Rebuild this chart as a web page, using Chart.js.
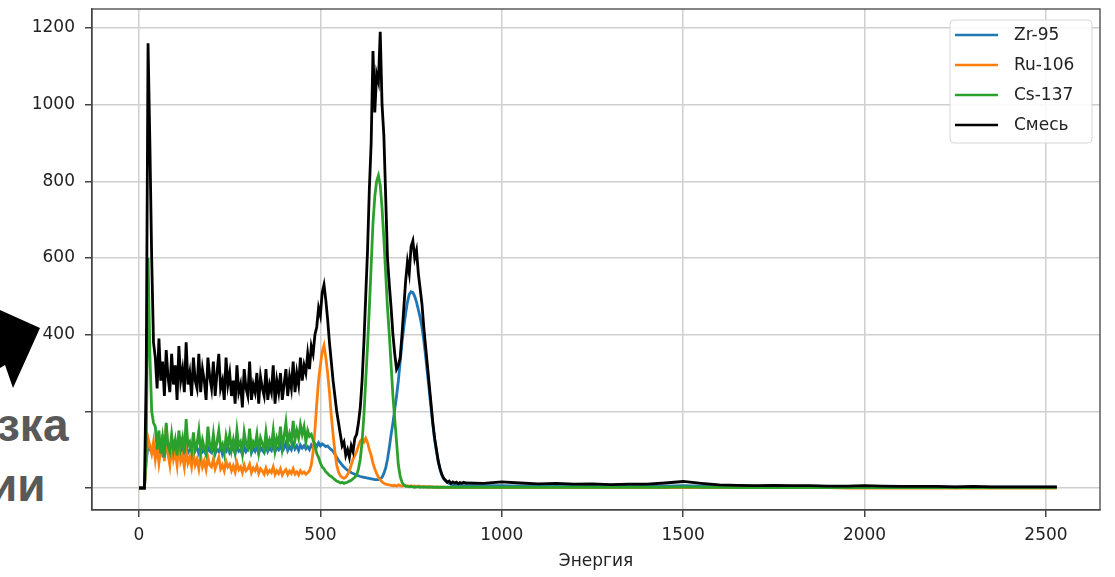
<!DOCTYPE html>
<html>
<head>
<meta charset="utf-8">
<script src="https://cdn.jsdelivr.net/npm/chart.js@4.4.1/dist/chart.umd.min.js"></script>
<style>
  body { margin: 0; background: #fff; }
  #wrap { position: relative; width: 1115px; height: 577px; }
  #cover { position: absolute; left: 0; top: 396px; width: 84px; height: 116px; background: #fff; }
  .big { position: absolute; font-family: "Liberation Sans", Arial, sans-serif; font-weight: bold;
         font-size: 46px; color: #595959; line-height: 1; white-space: nowrap; }
  #arrow { position: absolute; left: 0; top: 0; }
</style>
</head>
<body>
<div id="wrap">
  <canvas id="chart" width="1115" height="577"></canvas>
  <div id="cover"></div>
  <svg id="arrow" width="60" height="400"><polygon points="0,310 40,328 13,388 5,365 0,368" fill="#000"/></svg>
  <div class="big" style="left:-3px; top:402px;">зка</div>
  <div class="big" style="left:-11px; top:462px;">ии</div>
</div>
<script>
const energy = [
  0,5,10,15,20,25,30,35,40,45,
  50,55,60,65,70,75,80,85,90,95,
  100,105,110,115,120,125,130,135,140,145,
  150,155,160,165,170,175,180,185,190,195,
  200,205,210,215,220,225,230,235,240,245,
  250,255,260,265,270,275,280,285,290,295,
  300,305,310,315,320,325,330,335,340,345,
  350,355,360,365,370,375,380,385,390,395,
  400,405,410,415,420,425,430,435,440,445,
  450,455,460,465,470,475,480,485,490,495,
  500,505,510,515,520,525,530,535,540,545,
  550,555,560,565,570,575,580,585,590,595,
  600,605,610,615,620,625,630,635,640,645,
  650,655,660,665,670,675,680,685,690,695,
  700,705,710,715,720,725,730,735,740,745,
  750,755,760,765,770,775,780,785,790,795,
  800,805,810,815,820,825,830,835,840,845,
  850,855,860,865,870,875,880,885,890,895,
  900,
  950,1000,1050,1100,1150,1200,1250,1300,1350,1400,
  1450,1500,1550,1600,1650,1700,1750,1800,1850,1900,
  1950,2000,2050,2100,2150,2200,2250,2300,2350,2400,
  2450,2500,2530
];

const zr95 = [
  0,0,0,0,70,110,100,95,100,85,
  105,90,110,88,98,115,90,102,86,108,
  94,100,88,112,95,85,105,92,100,110,
  88,98,104,90,108,94,100,86,106,96,
  92,110,90,100,95,108,88,102,96,110,
  92,100,105,90,112,96,100,88,108,95,
  102,114,92,104,96,110,90,106,98,92,
  112,95,104,98,115,94,106,100,112,96,
  104,118,98,108,100,116,102,110,98,112,
  104,110,102,108,100,112,105,115,108,118,
  110,115,112,108,110,104,100,96,88,80,
  72,66,60,55,50,46,44,40,38,36,
  34,32,30,29,28,27,26,25,24,23,
  22,22,22,24,28,38,52,75,105,140,
  170,205,240,280,330,380,420,455,485,505,
  512,510,500,485,465,445,420,385,345,300,
  255,210,165,125,95,68,48,33,24,18,
  14,12,10,9,8,8,7,7,6,6,
  6,
  6,6,5,5,5,5,4,4,4,4,
  5,6,5,4,3,3,3,3,3,3,
  3,3,2,2,2,2,2,2,2,2,
  2,2,2
];

const ru106 = [
  0,0,0,0,80,130,110,90,120,75,
  110,65,100,140,70,165,90,60,115,75,
  95,60,120,70,85,55,100,65,80,55,
  90,60,75,50,85,55,70,48,80,60,
  55,75,50,65,80,50,60,45,70,55,
  62,45,58,42,66,48,55,40,60,45,
  50,62,40,52,45,58,38,50,44,36,
  52,38,46,40,55,35,45,38,50,34,
  42,48,35,44,38,50,36,42,34,45,
  38,42,36,40,45,60,95,150,220,280,
  320,355,372,340,300,250,190,140,95,60,
  42,32,28,25,28,35,45,60,75,85,
  95,110,122,128,120,130,118,100,85,65,
  50,38,28,22,16,12,10,9,8,7,
  6,7,5,8,6,5,7,5,6,4,
  6,4,5,3,5,4,3,4,3,3,
  4,2,3,2,3,2,2,2,2,1,
  2,1,1,1,1,1,1,1,1,1,
  1,
  1,1,1,1,1,1,1,1,1,1,
  1,1,1,1,1,1,1,1,1,1,
  0,0,0,0,0,0,0,0,0,0,
  0,0,0
];

const cs137 = [
  0,0,0,0,90,600,350,200,170,160,
  100,150,90,130,80,170,110,95,140,100,
  125,85,150,105,130,90,180,110,120,95,
  145,100,115,150,95,125,105,90,160,110,
  100,140,95,120,150,105,115,90,135,110,
  140,100,125,95,150,110,120,90,145,115,
  105,155,100,120,110,140,95,130,115,100,
  145,105,125,110,150,100,130,115,160,105,
  135,170,115,140,120,175,125,150,130,165,
  140,160,120,150,135,140,125,110,90,80,
  65,55,50,42,38,33,30,26,22,18,
  16,13,15,12,14,15,18,20,24,28,
  35,50,75,120,190,280,370,470,580,690,
  760,800,815,790,730,650,560,470,400,320,
  240,180,120,60,30,15,8,5,4,3,
  4,3,2,3,3,2,3,2,3,2,
  2,3,2,2,2,2,2,2,2,2,
  2,2,2,2,2,2,2,2,2,2,
  2,
  2,2,2,2,2,2,2,2,2,2,
  2,3,2,2,1,1,1,1,1,1,
  1,1,1,1,1,1,1,1,1,1,
  1,1,1
];

const mix = [
  0,0,0,0,300,1160,900,600,380,340,
  260,390,280,330,240,360,290,250,350,270,
  320,230,370,280,310,250,380,270,300,240,
  340,280,260,350,250,310,280,230,340,290,
  260,330,240,300,350,260,280,230,340,270,
  300,240,280,220,320,250,270,210,310,260,
  240,330,230,270,250,300,220,290,260,240,
  310,230,270,250,320,220,280,250,300,230,
  270,310,240,290,260,330,250,300,270,340,
  280,320,300,350,310,370,350,400,420,470,
  450,510,530,490,440,380,330,280,240,200,
  170,140,110,120,85,100,80,110,95,130,
  140,170,210,280,380,500,620,780,900,1140,
  980,1080,1060,1190,1000,920,760,600,530,470,
  400,350,310,320,340,400,470,540,590,560,
  630,645,600,620,560,520,480,420,370,320,
  270,220,170,130,100,70,50,35,25,20,
  15,18,12,16,13,15,11,14,12,15,
  13,
  12,16,13,11,12,10,11,9,10,10,
  13,17,12,8,7,6,7,6,6,5,
  5,6,5,4,4,4,3,4,3,3,
  3,3,3
];

const seriesNames = ["Zr-95", "Ru-106", "Cs-137", "Смесь"];
const seriesColors = ["#1f77b4", "#ff7f0e", "#2ca02c", "#000000"];
const seriesValues = [zr95, ru106, cs137, mix];
const xTicks = [0, 500, 1000, 1500, 2000, 2500];
const yTicks = [0, 200, 400, 600, 800, 1000, 1200];
const xTitle = "Энергия";

const tickFont = { family: "DejaVu Sans", size: 17 };
const axisColor = "#444";
const gridColor = "#cfcfcf";

// frame round the plot like matplotlib spines
const framePlugin = {
    id: "frame",
    afterDatasetsDraw(chart) {
        const { ctx, chartArea: a } = chart;
        ctx.save();
        ctx.strokeStyle = axisColor;
        ctx.lineWidth = 1.3;
        ctx.strokeRect(a.left, a.top, a.right - a.left, a.bottom - a.top);
        ctx.restore();
    }
};

// legend box in upper right corner
const legendPlugin = {
    id: "boxLegend",
    afterDraw(chart) {
        const { ctx, chartArea: a } = chart;
        const w = 142, h = 123;
        const x = a.right - 8 - w, y = a.top + 11;
        ctx.save();
        ctx.beginPath();
        ctx.roundRect(x, y, w, h, 4);
        ctx.fillStyle = "rgba(255,255,255,0.85)";
        ctx.fill();
        ctx.strokeStyle = "#d6d6d6";
        ctx.lineWidth = 1;
        ctx.stroke();
        ctx.font = "17px 'DejaVu Sans'";
        ctx.textBaseline = "middle";
        chart.data.datasets.forEach((ds, i) => {
            const ly = y + 15 + i * 30;
            ctx.beginPath();
            ctx.moveTo(x + 5, ly);
            ctx.lineTo(x + 48, ly);
            ctx.strokeStyle = ds.borderColor;
            ctx.lineWidth = 2.4;
            ctx.stroke();
            ctx.fillStyle = "#222";
            ctx.fillText(ds.label, x + 64, ly + 1);
        });
        ctx.restore();
    }
};

const datasets = seriesNames.map((name, k) => ({
    label: name,
    data: energy.map((e, i) => ({ x: e, y: seriesValues[k][i] })),
    borderColor: seriesColors[k],
    backgroundColor: seriesColors[k],
    borderWidth: 2.8,
    pointRadius: 0,
    tension: 0,
    order: seriesNames.length - k
}));

new Chart(document.getElementById("chart"), {
    type: "line",
    data: { datasets: datasets },
    plugins: [framePlugin, legendPlugin],
    options: {
        responsive: false,
        animation: false,
        devicePixelRatio: 1,
        layout: { padding: { top: 9, right: 15, left: 0, bottom: 0 } },
        plugins: { legend: { display: false }, tooltip: { enabled: false } },
        scales: {
            x: {
                type: "linear",
                min: -129.5,
                max: 2649,
                afterBuildTicks: s => { s.ticks = xTicks.map(v => ({ value: v })); },
                afterFit: s => { s.height = 67; s.paddingLeft = 0; s.paddingRight = 0; },
                grid: { color: gridColor, lineWidth: 1.5, tickColor: axisColor, tickLength: 7 },
                border: { color: axisColor, width: 1.3 },
                ticks: { color: "#222", font: tickFont, padding: 8, maxRotation: 0, includeBounds: false,
                         callback: v => String(v) },
                title: { display: true, text: xTitle, color: "#222", font: tickFont, padding: { top: 0, bottom: 5 } }
            },
            y: {
                min: -57.4,
                max: 1249.6,
                afterBuildTicks: s => { s.ticks = yTicks.map(v => ({ value: v })); },
                afterFit: s => { s.width = 92; s.paddingTop = 0; s.paddingBottom = 0; },
                grid: { color: gridColor, lineWidth: 1.5, tickColor: axisColor, tickLength: 7 },
                border: { color: axisColor, width: 1.3 },
                ticks: { color: "#222", font: tickFont, padding: 10, includeBounds: false,
                         callback: v => String(v) }
            }
        }
    }
});
</script>
</body>
</html>
